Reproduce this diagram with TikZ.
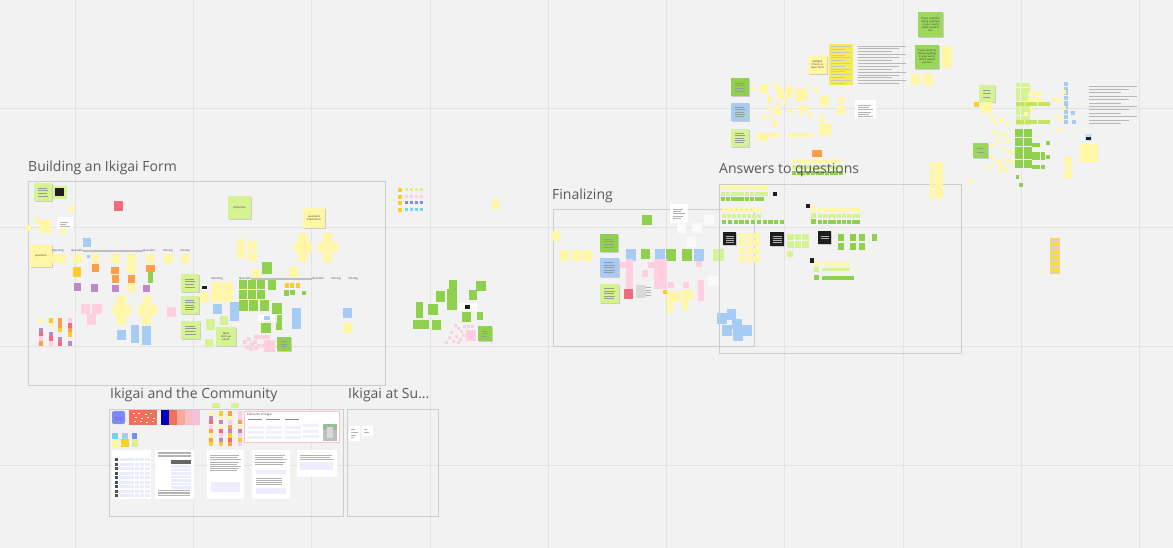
\documentclass[tikz,border=0pt]{standalone}
\usepackage{fontspec}
\setmainfont{Open Sans}
\definecolor{bg}{HTML}{F2F2F2}
\definecolor{gline}{HTML}{E3E3E3}
\definecolor{frameg}{HTML}{CDCDCD}
\definecolor{tgray}{HTML}{595959}
\definecolor{yel}{HTML}{FFF6A6}
\definecolor{lgr}{HTML}{D6F394}
\definecolor{olv}{HTML}{C6E25E}
\definecolor{grn}{HTML}{8FD14F}
\definecolor{blu}{HTML}{A6CCF5}
\definecolor{pnk}{HTML}{FFCEE0}
\definecolor{org}{HTML}{FF9D48}
\definecolor{pur}{HTML}{BE88C7}
\definecolor{rd}{HTML}{F16C7F}
\definecolor{dyl}{HTML}{F8CF2A}
\definecolor{blk}{HTML}{1E1E1E}
\definecolor{byel}{HTML}{F6EA55}
\definecolor{peri}{HTML}{7B8CF5}
\definecolor{cyn}{HTML}{6FD6F5}
\definecolor{salm}{HTML}{F0705A}
\tikzset{
 ttl/.style={font=\fontsize{14}{16}\selectfont, text=tgray, anchor=west, inner sep=0pt},
 frm/.style={draw=frameg, line width=0.9pt},
 tiny/.style={font=\fontsize{2.6}{3.1}\selectfont, inner sep=0pt, align=center, text=black!80},
 lbl/.style={font=\fontsize{2.8}{3}\selectfont, inner sep=0pt, text=black!75},
 tline/.style={draw=black!40, line width=0.35pt},
 docbox/.style={fill=white, draw=black!12, line width=0.3pt}
}
% filled box
\newcommand{\bx}[5]{\fill[#5] (#1,#2) rectangle (#3,#4);}
% grid of squares: x0 y0 ncols nrows step size colour
\newcommand{\sgr}[7]{\foreach \ii in {1,...,#3}{\foreach \jj in {1,...,#4}{\fill[#7] ({#1+(\ii-1)*#5},{#2+(\jj-1)*#5}) rectangle ++(#6,#6);}}}
% sticky with shadow and text lines: x1 y1 x2 y2 colour nlines
\newcommand{\lst}[6]{\fill[black!20] (#1+0.5,#2+1.3) rectangle (#3+0.5,#4+1.3);\fill[#5] (#1,#2) rectangle (#3,#4);
 \foreach \kk in {1,...,#6}{\draw[tline] ({#1+4},{#2+2+\kk*(#4-#2-4)/(#6+1)}) -- ({#3-4-mod(\kk,2)*1.5},{#2+2+\kk*(#4-#2-4)/(#6+1)});}}
% sticky with shadow and text: name x1 y1 x2 y2 colour textwidth text
\newcommand{\tst}[8]{\fill[black!20] (#2+0.5,#3+1.3) rectangle (#4+0.5,#5+1.3);\fill[#6] (#2,#3) rectangle (#4,#5);
 \node[tiny, text width=#7] (#1) at ({(#2+#4)/2},{(#3+#5)/2}) {#8};}
% document page: x1 y1 x2 y2 nlines
\newcommand{\doc}[5]{\fill[white] (#1,#2) rectangle (#3,#4);\foreach \kk in {1,...,#5}{\draw[black!30, line width=0.35pt] ({#1+3},{#2+3+\kk*2.2}) -- ({#3-3-mod(\kk,3)*2},{#2+3+\kk*2.2});}}
\begin{document}
\begin{tikzpicture}[x=1pt,y=-1pt]
\useasboundingbox (0,0) rectangle (1173,548);
\fill[bg] (0,0) rectangle (1173,548);
\foreach \gx in {75,193,311,430,548,666,784,903,1021,1139}{\draw[gline, line width=1pt] (\gx,0) -- (\gx,548);}
\foreach \gy in {109,228,346,465}{\draw[gline, line width=1pt] (0,\gy) -- (1173,\gy);}

% ================= FRAME 1 : Building an Ikigai Form =================
\draw[frm] (28,181) rectangle (385,385);
\node[ttl] (t1) at (28,167.5) {Building an Ikigai Form};
\lst{34}{183}{52}{201}{lgr}{4}
\bx{53}{186}{67}{199}{lgr}
\bx{55}{188}{64}{196}{blk}
\bx{114}{201}{123}{211}{rd}
\bx{69}{206}{74}{212}{yel}
\bx{35}{218}{40}{223}{yel}
\bx{39}{220}{51}{233}{yel}
\bx{26}{225}{31}{231}{yel}
\doc{57}{217}{73}{228}{3}
\bx{61}{229}{66}{235}{yel}
\bx{83}{238}{91}{247}{blu}
\tst{q1}{30}{245}{52}{267}{yel}{20pt}{questions}
\draw[black!25, line width=1.1pt] (83,251) -- (143,251);
\node[lbl] (o1) at (58,251) {Opening};
\node[lbl] (qa) at (77,251) {Question};
\node[lbl] (qb) at (149,251) {Question};
\node[lbl] (c1) at (168,251) {Closing};
\node[lbl] (c2) at (185,251) {Closing};
% row under line
\bx{52}{254}{66}{263}{yel}
\bx{73}{254}{82}{263}{yel}
\bx{92}{254}{99}{263}{yel}
\bx{111}{254}{120}{263}{yel}
\bx{127}{254}{136}{263}{yel}
\bx{146}{254}{154}{263}{yel}
\bx{164}{254}{173}{263}{yel}
\bx{181}{254}{189}{263}{yel}
\bx{87}{255}{90}{258}{blu}
\bx{73}{267}{81}{277}{dyl}
\bx{92}{264}{99}{272}{org}
\bx{111}{267}{119}{274}{org}
\bx{127}{264}{136}{273}{yel}
\bx{146}{265}{155}{272}{org}
\bx{112}{275}{119}{283}{org}
\bx{128}{275}{135}{283}{org}
\bx{148}{272}{153}{283}{grn}
\bx{74}{283}{81}{291}{pur}
\bx{91}{284}{98}{292}{pur}
\bx{112}{285}{119}{292}{pur}
\bx{127}{283}{135}{292}{yel}
\bx{143}{285}{150}{292}{pur}
\bx{81}{304}{90}{314}{pnk}
\bx{92}{304}{102}{314}{pnk}
\bx{87}{314}{96}{325}{pnk}
% yellow crosses
\bx{117}{296}{126}{305}{yel}\bx{113}{305}{122}{315}{yel}\bx{122}{305}{131}{315}{yel}\bx{117}{315}{126}{325}{yel}
\bx{143}{296}{151}{305}{yel}\bx{138}{305}{147}{315}{yel}\bx{148}{305}{157}{315}{yel}\bx{142}{315}{151}{325}{yel}
\bx{117}{330}{126}{340}{blu}
\bx{131}{325}{139}{343}{blu}
\bx{142}{326}{151}{345}{blu}
\bx{167}{307}{176}{317}{pnk}
% small colour columns
\bx{39}{318}{43}{323}{yel}\bx{39}{328}{43}{332}{pur}\bx{39}{332}{43}{336}{rd}\bx{39}{336}{43}{341}{pnk}\bx{39}{341}{43}{346}{org}
\bx{49}{318}{53}{323}{dyl}\bx{49}{323}{53}{327}{yel}\bx{49}{332}{53}{336}{pur}\bx{49}{336}{53}{341}{rd}\bx{49}{341}{53}{346}{pnk}
\bx{58}{318}{62}{323}{org}\bx{58}{323}{62}{328}{org}\bx{58}{328}{62}{332}{dyl}\bx{58}{337}{62}{341}{pur}\bx{58}{341}{62}{346}{rd}
\bx{68}{318}{72}{323}{pnk}\bx{68}{323}{72}{328}{rd}\bx{68}{328}{72}{332}{org}\bx{68}{332}{72}{337}{dyl}\bx{68}{341}{72}{346}{pur}
\lst{181}{274}{199}{292}{lgr}{4}
\lst{181}{296}{199}{314}{lgr}{5}
\lst{181}{321}{200}{339}{lgr}{4}
% right part of frame 1
\tst{obj}{228}{196}{251}{219}{lgr}{22pt}{Objectives}
\tst{qbs}{303}{208}{325}{228}{yel}{20pt}{questions\\brainstorm}
\bx{298}{233}{307}{242}{yel}\bx{294}{242}{303}{252}{yel}\bx{303}{242}{312}{252}{yel}\bx{298}{252}{307}{262}{yel}
\bx{323}{233}{332}{242}{yel}\bx{318}{242}{327}{252}{yel}\bx{328}{242}{338}{252}{yel}\bx{323}{252}{332}{262}{yel}
\bx{237}{239}{245}{258}{yel}
\bx{248}{241}{257}{250}{yel}
\bx{248}{252}{257}{261}{yel}
\bx{262}{262}{272}{274}{grn}
\bx{252}{269}{260}{278}{yel}
\bx{289}{267}{298}{277}{yel}
\draw[black!25, line width=1.1pt] (251,279) -- (312,279);
\node[lbl] (o2) at (217,279) {Opening};
\node[lbl] (qc) at (245,279) {Question};
\node[lbl] (qd) at (318,279) {Question};
\node[lbl] (c3) at (336,279) {Closing};
\node[lbl] (c4) at (353,279) {Closing};
\bx{201}{284}{208}{290}{white}\bx{202}{286}{207}{289}{blk}
\bx{212}{282}{222}{292}{yel}\bx{223}{282}{233}{292}{yel}
\bx{200}{292}{209}{302}{yel}\bx{212}{292}{222}{302}{yel}\bx{223}{292}{233}{302}{yel}
\bx{239}{280}{247}{289}{grn}\bx{248}{280}{256}{289}{grn}\bx{257}{280}{265}{289}{grn}
\bx{239}{290}{247}{299}{grn}\bx{248}{290}{256}{299}{grn}\bx{257}{290}{265}{299}{grn}
\bx{268}{280}{276}{290}{grn}
\bx{285}{283}{289}{288}{dyl}\bx{290}{283}{294}{288}{dyl}\bx{296}{283}{300}{288}{dyl}
\bx{284}{290}{289}{296}{grn}\bx{290}{290}{295}{295}{grn}\bx{302}{291}{306}{295}{grn}
\bx{213}{304}{222}{314}{blu}
\bx{230}{302}{239}{321}{blu}
\bx{239}{300}{248}{311}{grn}\bx{249}{300}{258}{311}{grn}\bx{260}{300}{269}{311}{grn}
\bx{272}{303}{282}{314}{grn}
\bx{292}{308}{301}{329}{blu}
\bx{343}{308}{352}{318}{blu}
\bx{343}{323}{352}{333}{yel}
\bx{206}{319}{215}{330}{lgr}
\bx{220}{316}{228}{325}{lgr}
\tst{need}{216}{327}{236}{346}{lgr}{19pt}{Need\\skills we\\need?}
\bx{205}{339}{213}{347}{lgr}
\bx{258}{315}{275}{321}{white}\bx{264}{316}{270}{320}{blu}
\bx{277}{315}{282}{323}{grn}
\bx{261}{323}{271}{333}{grn}
\bx{276}{323}{282}{330}{grn}
\foreach \px/\py in {254/335,258/335,262/335,266/335,243/340,247/337,250/342,253/340,254/346,249/347,257/344,262/344,245/345}{\fill[pnk] (\px,\py) rectangle ++(3.5,3.5);}
\bx{264}{340}{275}{352}{pnk}
\lst{277}{337}{291}{351}{grn}{3}

% ================= middle cluster =================
\foreach \ry/\rc in {188/lgr,195/pnk,201/peri,208/cyn}{
 \fill[dyl] (398,\ry) rectangle ++(4,4);
 \foreach \rx in {405,410,415,420}{\fill[\rc] (\rx,\ry) rectangle ++(2.6,3.5);}}
\bx{492}{200}{499}{209}{yel}
\bx{449}{280}{457}{290}{grn}
\bx{436}{291}{445}{302}{grn}
\bx{447}{289}{457}{310}{grn}
\bx{476}{281}{486}{291}{grn}
\bx{469}{290}{477}{300}{grn}
\bx{416}{302}{423}{318}{grn}
\bx{428}{304}{438}{315}{grn}
\bx{413}{320}{421}{329}{grn}\bx{421}{320}{429}{329}{grn}
\bx{432}{320}{441}{330}{grn}
\bx{462}{312}{471}{322}{grn}
\bx{477}{312}{483}{320}{grn}
\bx{458}{303}{477}{311}{white}\bx{465}{305}{470}{309}{blk}
\foreach \px/\py in {454/324,457/327,460/330,463/325,467/325,471/325,450/331,455/335,459/338,462/334,448/336,452/340,457/341,445/341}{\fill[pnk] (\px,\py) rectangle ++(3.3,3.3);}
\bx{466}{330}{476}{341}{pnk}
\lst{478}{326}{492}{341}{grn}{3}

% ================= FINALIZING =================
\draw[frm] (553,209) rectangle (754,346);
\node[ttl] (t2) at (552,195.5) {Finalizing};
\bx{642}{215}{652}{225}{grn}
\doc{670}{204}{688}{223}{5}
\bx{704}{215}{714}{225}{white!60!bg}
\bx{677}{223}{686}{233}{white!60!bg}
\bx{692}{223}{702}{233}{white!60!bg}
\bx{687}{237}{696}{247}{white!60!bg}
\bx{708}{276}{718}{286}{white!60!bg}
\bx{552}{231}{560}{241}{yel}
\bx{560}{250}{569}{261}{yel}\bx{572}{250}{581}{261}{yel}\bx{583}{250}{592}{261}{yel}
\lst{600}{234}{618}{252}{grn}{4}
\lst{600}{258}{619}{277}{blu}{5}
\lst{600}{284}{619}{303}{lgr}{5}
\bx{626}{249}{636}{261}{blu}
\bx{641}{249}{650}{259}{grn}
\bx{655}{249}{665}{261}{blu}
\bx{666}{249}{676}{261}{grn}
\bx{682}{249}{692}{261}{grn}
\bx{694}{249}{704}{261}{blu}
\bx{713}{249}{724}{261}{lgr}
\bx{626}{259}{633}{290}{pnk}
\bx{620}{262}{627}{268}{pnk}
\bx{642}{270}{648}{277}{pnk}
\bx{648}{262}{654}{268}{pnk}
\bx{654}{259}{661}{289}{pnk}
\bx{661}{259}{667}{289}{pnk}
\bx{696}{261}{702}{267}{pnk}
\bx{668}{282}{674}{288}{pnk}
\bx{683}{282}{689}{288}{pnk}
\bx{698}{280}{704}{293}{pnk}
\bx{698}{293}{704}{301}{pnk}
\bx{624}{289}{633}{299}{rd}
\bx{636}{285}{646}{298}{black!15}
\foreach \kk in {0,1,2,3}{\draw[black!30, line width=0.4pt] (646,{287+\kk*2.8}) -- (651,{287+\kk*2.8});}
\bx{663}{290}{667}{294}{dyl}
\bx{667}{292}{674}{302}{yel}\bx{674}{292}{680}{302}{yel}\bx{667}{302}{673}{313}{yel}
\bx{682}{290}{688}{300}{yel}\bx{688}{290}{693}{300}{yel}\bx{682}{300}{688}{310}{yel}
\bx{717}{313}{727}{324}{blu}
\bx{727}{309}{736}{320}{blu}
\bx{732}{319}{742}{329}{blu}
\bx{722}{325}{732}{336}{blu}
\bx{733}{329}{743}{341}{blu}
\bx{742}{325}{752}{336}{blu}

% ================= ANSWERS TO QUESTIONS =================
\draw[frm] (719,184) rectangle (961,353);
\bx{812}{150}{822}{157}{org}
\sgr{792}{159}{11}{1}{4.7}{4}{yel}
\sgr{792}{165}{11}{1}{4.7}{4}{lgr}
\sgr{792}{171}{11}{1}{4.7}{4}{grn}
\node[ttl] (t3) at (719,170.5) {Answers to questions};
\sgr{930}{162}{3}{8}{4.5}{4.2}{yel}
\sgr{721}{186}{10}{1}{4.8}{4.2}{yel}
\sgr{721}{192}{10}{1}{4.8}{4.2}{lgr}
\sgr{721}{197}{9}{1}{4.8}{4.2}{grn}
\bx{773}{192}{777}{196}{blk}
\sgr{722}{208}{8}{1}{5}{4.2}{yel}
\sgr{722}{214}{8}{1}{5}{4.2}{lgr}
\sgr{722}{220}{11}{1}{5.8}{4.2}{grn}
\fill[black!20] (723.5,233.3) rectangle (736.5,246.3);\bx{723}{232}{736}{245}{blk}
\foreach \kk in {1,...,4}{\draw[white!70!black, line width=0.3pt] (725.5,{233.5+\kk*2.2}) -- (733.5,{233.5+\kk*2.2});}
\sgr{739}{233}{3}{3}{7.5}{6}{yel}
\sgr{739}{256}{3}{1}{7.5}{6}{yel}
\fill[black!20] (770.5,233.3) rectangle (784.5,247.3);\bx{770}{232}{784}{246}{blk}
\foreach \kk in {1,...,4}{\draw[white!70!black, line width=0.3pt] (772.5,{233.5+\kk*2.2}) -- (781.5,{233.5+\kk*2.2});}
\sgr{787}{234}{3}{2}{7.5}{6.5}{lgr}
\bx{787}{251}{793}{257}{lgr}
\bx{806}{204}{810}{208}{blk}
\bx{811}{206}{816}{212}{yel}\bx{811}{213}{816}{218}{lgr}\bx{811}{219}{816}{224}{grn}
\sgr{818}{208}{9}{1}{4.8}{4}{yel}
\sgr{818}{214}{9}{1}{4.8}{4}{lgr}
\sgr{818}{220}{9}{1}{4.8}{4}{grn}
\fill[black!20] (818.5,232.3) rectangle (831.5,245.3);\bx{818}{231}{831}{244}{blk}
\foreach \kk in {1,2}{\draw[white!70!black, line width=0.3pt] (820.5,{234+\kk*2.2}) -- (828.5,{234+\kk*2.2});}
\bx{838}{234}{844}{241}{grn}\bx{850}{234}{856}{241}{grn}\bx{859}{234}{865}{241}{grn}\bx{872}{234}{877}{241}{grn}
\bx{838}{243}{844}{250}{grn}\bx{850}{243}{856}{250}{grn}\bx{859}{243}{865}{250}{grn}
\bx{810}{258}{814}{263}{blk}
\bx{814}{261}{819}{266}{yel}\bx{814}{267}{819}{272}{lgr}\bx{814}{275}{819}{280}{grn}
\sgr{822}{262}{7}{1}{4}{3.5}{yel}
\sgr{822}{268}{7}{1}{4}{3.5}{lgr}
\sgr{822}{276}{8}{1}{4}{3.5}{grn}

% ================= TOP RIGHT AREA =================
\tst{q2}{918}{12}{943}{37}{grn!80!lgr}{22pt}{If you could be\\doing anything\\in your work,\\what would it\\be?}
\tst{q3}{915}{45}{939}{69}{grn!85!lgr}{22pt}{If you could be\\doing anything\\in your work,\\which would\\you be?}
\bx{942}{46}{952}{58}{yel}\bx{942}{58}{952}{68}{yel}
\bx{911}{74}{920}{85}{yel}\bx{923}{74}{933}{85}{yel}
\tst{mc}{808}{56}{827}{74}{yel}{17pt}{Multiple\\Choice or\\open form}
\fill[byel] (829,44) rectangle (853,85);
\foreach \kk in {0,...,13}{\draw[black!22, line width=0.6pt] (831,{46.5+\kk*2.8}) -- ({851-mod(\kk,2)*6},{46.5+\kk*2.8});}
\foreach \kk in {0,...,13}{\draw[black!28, line width=0.9pt] (858,{46+\kk*2.9}) -- ({906-mod(\kk,3)*7},{46+\kk*2.9});}
\doc{855}{100}{876}{118}{6}
\lst{731}{78}{749}{96}{grn}{4}
\lst{731}{103}{749}{121}{blu}{5}
\lst{731}{129}{749}{147}{lgr}{5}
\foreach \ax/\ay/\bxx/\byy in {760/84/768/93,773/83/777/87,776/87/783/93,768/96/772/102,778/93/785/99,786/86/793/97,784/100/788/104,796/89/807/100,806/85/809/88,814/88/818/93,797/96/803/102,820/96/829/106,838/97/844/104,773/107/781/115,788/109/793/113,798/106/810/110,800/110/803/115,808/112/812/117,762/114/766/118,768/115/772/118,820/115/824/121,837/106/845/114,773/120/777/128,819/123/831/136,756/133/780/137,757/137/768/141,788/133/808/137,809/133/813/137,752/86/756/90,776/102/780/106,766/106/770/110}{\fill[yel] (\ax,\ay) rectangle (\bxx,\byy);}
% far right clusters
\lst{979}{85}{995}{102}{lgr}{3}
\bx{974}{102}{979}{107}{dyl}
\sgr{981}{102}{2}{2}{5.5}{5.5}{yel}
\lst{973}{143}{988}{158}{grn!85!lgr}{2}
\sgr{1016}{83}{3}{9}{4.7}{4.2}{lgr}
\sgr{1028}{92}{3}{2}{4.7}{4.2}{yel}
\sgr{1016}{102}{8}{1}{4.3}{4}{olv}
\sgr{1016}{120}{8}{1}{4.3}{4}{olv}
\sgr{1015}{129}{4}{9}{4.4}{4}{grn}
\sgr{1032}{143}{2}{1}{4.4}{4}{grn}
\sgr{1032}{152}{3}{2}{4.4}{4}{grn}
\sgr{1032}{165}{3}{1}{4.4}{4}{grn}
\bx{1046}{141}{1050}{145}{grn}\bx{1046}{155}{1050}{159}{grn}
\bx{1016}{175}{1019}{179}{grn}\bx{1019}{183}{1023}{187}{grn}
\sgr{1064}{82}{1}{9}{4.7}{4}{blu}
\bx{1071}{111}{1075}{115}{blu}\bx{1072}{120}{1076}{124}{blu}
\foreach \ax/\ay in {990/115,994/120,1000/118,992/130,998/133,1004/133,1006/140,990/143,996/140,1002/148,1008/150,990/156,995/160,1000/162,1005/158,1010/160,998/168,1004/168,985/165,1053/98,1057/98,1062/106,1055/114,1060/118,1057/128,1062/90,1005/122,1024/112,1030/108}{\fill[yel] (\ax,\ay) rectangle ++(4,4);}
\sgr{1064}{157}{2}{5}{4.3}{3.8}{yel}
\bx{968}{179}{972}{183}{yel}
\foreach \kk in {0,...,11}{\draw[black!28, line width=0.9pt] (1089,{86+\kk*3.4}) -- ({1137-mod(\kk,3)*8},{86+\kk*3.4});}
\bx{1085}{134}{1092}{141}{blu!60!white}\bx{1086}{137}{1091}{140}{blk}
\sgr{1080}{144}{3}{3}{6}{5.6}{yel}
\fill[dyl!70!yel] (1050,238) rectangle (1060,274);
\foreach \kk in {0,...,11}{\draw[black!18, line width=0.4pt] (1051,{240+\kk*2.9}) -- (1059,{240+\kk*2.9});}

% ================= IKIGAI AND THE COMMUNITY =================
\draw[frm] (109,409) rectangle (343,516);
\node[ttl] (t4) at (110,394.5) {Ikigai and the Community};
\draw[frm] (347,409) rectangle (438,516);
\node[ttl] (t5) at (348,394.5) {Ikigai at Su...};
\fill[peri, rounded corners=2pt] (112,411) rectangle (125,424);
\draw[black!50, line width=0.3pt] (114,417) -- (123,417) (115,419) -- (122,419);
\fill[salm] (129,410) rectangle (157,425);
\foreach \dx/\dy in {133/413,138/413,145/414,150/413,135/417,141/418,147/417,153/418,134/421,140/421,146/422,152/421}{\fill[white] (\dx,\dy) rectangle ++(1.6,0.9);}
\fill[blue!75!black] (161,410) rectangle (169,425);
\fill[salm] (169,410) rectangle (177,425);
\fill[salm!60!white] (177,410) rectangle (185,425);
\fill[rd!45!white] (185,410) rectangle (192,425);
\fill[pnk!80!pur] (192,410) rectangle (200,425);
\bx{212}{403}{220}{408}{lgr}\bx{231}{403}{239}{408}{lgr}
\foreach \cx/\cl in {209/{yel,pur,rd,pnk,org,yel,org,dyl},219/{dyl,yel,pur,yel,rd,pnk,pur,dyl},228/{org,yel,pnk,org,pur,dyl,rd,org},238/{pnk,pnk,org,yel,pur,pnk,dyl,pnk}}{
 \foreach \cc [count=\nn] in \cl {\fill[\cc] (\cx,{407+\nn*4.4}) rectangle ++(4.2,4.2);}}
\fill[white, draw=rd!40!white, line width=0.5pt] (244,411) rectangle (339,442);
\node[lbl, anchor=north west, font=\fontsize{3}{3.5}\selectfont] (ei) at (247,413) {Elements of Ikigai};
\foreach \ex in {248,266,285}{\foreach \ey in {426,431,436}{\fill[blue!6] (\ex,\ey) rectangle ++(16,3);} \draw[black!45, line width=0.3pt] (\ex,419) -- ++(14,0);}
\fill[blue!6] (303,424) rectangle (319,427);\fill[blue!6] (303,430) rectangle (319,433);\fill[blue!6] (303,435) rectangle (319,438);
\fill[black!25] (323,424) rectangle (337,441);\fill[green!35!black!40] (323,424) rectangle (337,430);\fill[white!85!black] (327,427) rectangle (333,438);
\bx{112}{433}{118}{439}{cyn}\bx{122}{433}{128}{439}{blu}\bx{132}{433}{137}{439}{peri}
\bx{112}{439}{119}{447}{yel}\bx{121}{439}{129}{447}{dyl}\bx{132}{439}{138}{447}{lgr}
% documents
\fill[white] (112,450) rectangle (151,499);
\foreach \kk in {0,...,8}{\fill[black!70] (115,{458+\kk*4.5}) rectangle ++(2.5,3);\foreach \cc in {0,...,5}{\fill[blue!8] ({119+\cc*5.2},{458+\kk*4.5}) rectangle ++(4.5,3.4);}}
\fill[white] (155,450) rectangle (194,499);
\foreach \kk in {0,...,3}{\draw[black!30, line width=0.3pt] (158,{452+\kk*1.5}) -- (191,{452+\kk*1.5});}
\fill[black!60] (171,460) rectangle (191,464);
\foreach \kk in {0,...,6}{\fill[blue!8] (171,{465+\kk*3.5}) rectangle (191,{467.8+\kk*3.5});}
\foreach \kk in {0,...,3}{\draw[black!30, line width=0.3pt] (158,{490+\kk*1.7}) -- (190,{490+\kk*1.7});}
\doc{207}{450}{244}{499}{8}
\fill[blue!7] (211,482) rectangle (240,492);
\doc{252}{450}{290}{499}{5}
\fill[blue!7] (256,470) rectangle (286,474);\fill[blue!7] (256,488) rectangle (286,494);
\foreach \kk in {0,...,3}{\draw[black!30, line width=0.3pt] (256,{478+\kk*2}) -- (282,{478+\kk*2});}
\doc{297}{450}{337}{477}{3}
\fill[blue!7] (300,462) rectangle (333,470);
\fill[white] (349,426) rectangle (360,441);\draw[black!30, line width=0.3pt] (351,429) -- (355,429) (351,432) -- (358,432) (351,435) -- (356,435);\fill[blue!30] (351,437) rectangle (354,438);
\fill[white] (362,426) rectangle (373,436);\draw[black!30, line width=0.3pt] (364,429) -- (367,429) (364,432) -- (369,432);
\end{tikzpicture}
\end{document}
